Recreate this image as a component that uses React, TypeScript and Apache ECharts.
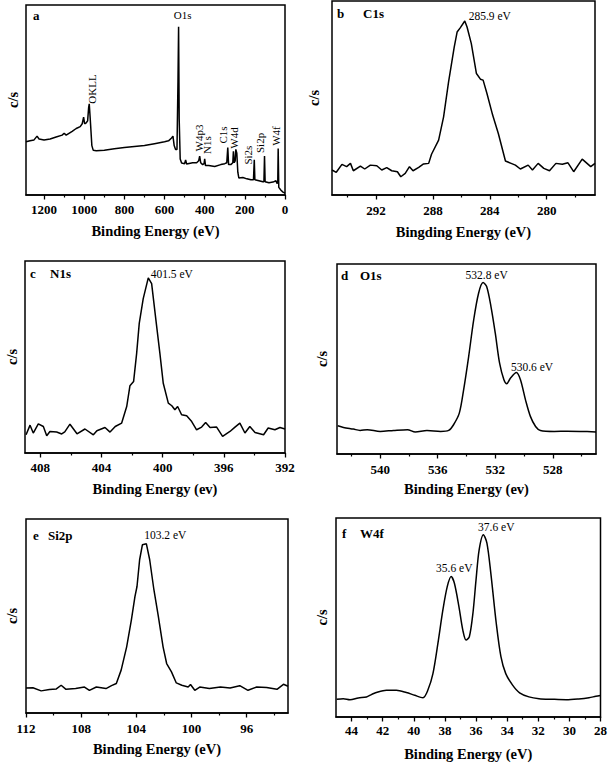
import React, { useEffect, useRef } from "react";
import * as echarts from "echarts";

// ---------- data ----------
// (a) survey
const surveyEnergy = [1290,1270,1250,1235,1225,1200,1170,1140,1110,1100,1090,1060,1040,1020,1010,1003,998,990,983,978,975,970,962,955,940,900,850,800,750,700,650,600,580,565,558,552,545,538,533,530,527,522,515,500,495,490,460,440,430,425,420,410,403,400,396,380,350,320,300,290,285,281,270,260,257,253,248,245,240,235,230,210,190,170,157,153,150,130,110,105,102,99,80,60,45,40,36,34,31,20,10,0];
const surveyCounts = [28,28.5,29,31,29.5,29,29.5,30.5,31.5,32.5,31.5,33.5,35,36,37.5,41,37.5,38,39,46,48,40,26,23.5,23.3,23.6,24.3,25,25.5,26,27,28,28.5,30,31,26,24,24,60,88.6,40,19,16.8,16.5,18.5,16.3,17,17,18,20.5,17,16,16.5,19,15.5,15.5,15,16,16.5,17,25,16,16,17,23,17,18,24,22,12,9,9.2,8.5,8,8,18.5,8,7.5,7,7,20.5,7,6.5,6.8,7.5,6,7,24.5,4,2.5,1.5,1];
const surveyTicks = [0,200,400,600,800,1000,1200];
const surveyMinorTicks = [100,300,500,700,900,1100];
const surveyPeakNames = ["O1s","OKLL","W4p3","N1s","C1s","W4d","Si2s","Si2p","W4f"];
const surveyPeakLabelAt = [[510,95],[960,55.8],[430,30],[390,26.3],[310,31.6],[252,30],[185,21],[125,27.4],[45,31]];
const surveyPeakRotate = [0,90,90,90,90,90,90,90,90];

// (b) C1s
const c1sEnergy = [295.1,294.8,294.4,294.07,293.8,293.6,293.1,292.8,292.4,291.95,291.6,291.25,290.9,290.5,290.26,289.95,289.65,289.4,289.0,288.66,288.3,288.1,287.6,287.25,286.9,286.5,286.3,286.07,285.76,285.6,285.3,284.94,284.66,284.47,284.2,283.8,283.4,283.1,282.9,282.5,282.2,281.85,281.3,281.0,280.6,280.2,279.8,279.35,278.9,278.5,278.1,277.5,276.9,276.6];
const c1sCounts = [12.9,11.7,15.8,14.6,16.3,12.5,14.9,13.4,15.4,15.1,12.9,14.1,12.5,12,9.4,11.1,14.6,12.5,14.2,16,16.3,21,28.3,40.3,58.3,76.3,84,86.3,89.7,86.6,78,62.6,59.7,59.2,52.3,41.2,31.7,23.2,17.5,16.3,15.4,13.4,15.4,12.9,16.3,13.7,12.5,16.3,15.8,16.6,12,18.5,14.6,16.3];
const c1sTicks = [292,288,284,280];
const c1sMinorTicks = [294,290,286,282,278];
const c1sPeakNames = ["285.9 eV"];
const c1sPeakLabelAt = [[284.0,92.3]];

// (c) N1s
const n1sEnergy = [408.93,408.67,408.46,408.13,407.8,407.58,407.37,406.93,406.6,406.4,406.06,405.6,405.08,404.53,404.3,403.77,403.44,403.1,402.68,402.35,402.14,401.9,401.7,401.53,401.27,400.94,400.72,400.44,400.18,399.96,399.63,399.4,399.2,399.02,398.76,398.43,398.1,397.78,397.45,397.19,396.9,396.47,396.08,395.6,395.27,394.95,394.62,394.3,393.96,393.4,393.1,392.66,392.33,392.0];
const n1sCounts = [9.5,14.5,10.4,15.2,13.8,9,11.2,10.9,9.9,11,15,10,12.5,9.5,11.6,13.3,10.9,13.8,15.6,24.2,35,37.2,51.9,67.5,80.4,91.2,88.2,69.2,51.9,36.3,26,24.6,22.5,24.2,19.9,19.4,16.4,12.1,13.5,15.9,13.3,13.5,8.7,11.2,13.5,15.6,10.4,13.8,10.7,9.5,13,12.1,13.3,12.5];
const n1sTicks = [408,404,400,396,392];
const n1sMinorTicks = [406,402,398,394];
const n1sPeakNames = ["401.5 eV"];
const n1sPeakLabelAt = [[399.4,93]];

// (d) O1s
const o1sEnergy = [542.95,542.55,541.86,541.4,540.9,540,539.07,538.1,537.56,536.75,535.8,535.24,534.9,534.5,534.2,533.85,533.5,533.16,532.85,532.6,532.3,532.0,531.7,531.4,531.2,530.95,530.53,530.25,529.9,529.56,529.2,528.86,527.9,527.0,526.1,525.0];
const o1sCounts = [14.9,14,13.1,12.4,12.8,11.9,12.4,12.8,11.6,12.4,11.9,12.4,15.4,21.5,33.8,51.3,70.6,84.6,90.2,88.1,77.6,63.6,47.8,39.1,37,39.9,42.9,39.1,28.5,19.8,14.5,12.4,11.9,12.0,11.9,11.6];
const o1sTicks = [540,536,532,528];
const o1sMinorTicks = [542,538,534,530,526];
const o1sPeakNames = ["532.8 eV","530.6 eV"];
const o1sPeakLabelAt = [[532.6,94],[529.45,46]];

// (e) Si2p
const si2pEnergy = [112,111.5,110.9,110.3,109.8,109.45,109.1,108.4,107.76,107.4,106.9,106.2,105.8,105.45,105.1,104.7,104.36,104.1,103.95,103.76,103.56,103.27,103.03,102.74,102.4,102.06,101.8,101.45,101.1,100.7,100.24,100.07,99.76,99.4,98.7,97.9,97.2,96.5,95.9,95.27,94.55,93.8,93.33,93];
const si2pCounts = [12.9,13,11.4,12.1,12.4,14.3,12.2,12.6,13.4,11.7,13.4,12.6,14.1,15.2,22.1,34.1,47.9,60,65.2,79,86.7,87.2,79,64.3,49.7,34.1,25.5,21.2,15.5,14.3,13.4,14.7,11.7,13.4,12.6,13.4,12.9,14.1,11.7,13.4,13.1,12.2,14.8,13.8];
const si2pTicks = [112,108,104,100,96];
const si2pMinorTicks = [110,106,102,98,94];
const si2pPeakNames = ["103.2 eV"];
const si2pPeakLabelAt = [[101.9,92]];

// (f) W4f
const w4fEnergy = [44.96,44.53,44.1,43.57,43.04,42.7,42.3,41.76,41.12,40.48,39.94,39.41,39.1,38.77,38.45,38.13,37.85,37.6,37.39,37.1,36.85,36.64,36.43,36.2,36.0,35.8,35.53,35.3,35.05,34.7,34.4,34.09,33.65,33.2,32.6,31.95,31.1,30.2,29.4,28.74,28.3,28.0];
const w4fCounts = [8.9,9.2,8.7,9.6,10.1,11.4,12.6,13.4,13.4,12.3,10.9,9.7,13.4,21.8,37,53.8,65.5,70.6,67.2,55.5,43.7,38.7,40.3,52.1,68.9,84,91.6,87.4,72.3,47.1,30.3,21.8,16,12.1,10.1,9.2,8.9,8.7,9.1,9.7,10.4,10.8];
const w4fTicks = [44,42,40,38,36,34,32,30,28];
const w4fMinorTicks = [43,41,39,37,35,33,31,29];
const w4fPeakNames = ["35.6 eV","37.6 eV"];
const w4fPeakLabelAt = [[37.4,75],[34.7,95.6]];

const FONT = '"Liberation Serif", "Times New Roman", serif';

type Panel = {
  grid: { left: number; top: number; width: number; height: number };
  min: number; max: number;
  ticks: number[]; minor: number[];
  energy: number[]; counts: number[];
  smooth: number | boolean;
  xName: string;
  xNameGap: number; labelMargin: number; yNameGap: number;
  peakNames: string[]; peakAt: number[][]; peakRotate?: number[];
  letter: string; letterPos: [number, number];
  element?: string; elementPos?: [number, number];
};

const panels: Panel[] = [
  { grid: { left: 26, top: 5, width: 259, height: 190 }, min: 0, max: 1290, ticks: surveyTicks, minor: surveyMinorTicks,
    energy: surveyEnergy, counts: surveyCounts, smooth: false, xName: "Binding Energy (eV)", xNameGap: 28, labelMargin: 8, yNameGap: 6,
    peakNames: surveyPeakNames, peakAt: surveyPeakLabelAt, peakRotate: surveyPeakRotate, letter: "a", letterPos: [33, 15] },
  { grid: { left: 332, top: 1, width: 263, height: 194 }, min: 276.6, max: 295.1, ticks: c1sTicks, minor: c1sMinorTicks,
    energy: c1sEnergy, counts: c1sCounts, smooth: false, xName: "Bingding Energy (eV)", xNameGap: 29, labelMargin: 9, yNameGap: 11,
    peakNames: c1sPeakNames, peakAt: c1sPeakLabelAt, letter: "b", letterPos: [337, 13], element: "C1s", elementPos: [363, 13] },
  { grid: { left: 25, top: 261, width: 260, height: 192 }, min: 392, max: 409, ticks: n1sTicks, minor: n1sMinorTicks,
    energy: n1sEnergy, counts: n1sCounts, smooth: false, xName: "Binding Energy (ev)", xNameGap: 28, labelMargin: 8, yNameGap: 6,
    peakNames: n1sPeakNames, peakAt: n1sPeakLabelAt, letter: "c", letterPos: [30, 273], element: "N1s", elementPos: [50, 273] },
  { grid: { left: 337, top: 264, width: 259, height: 190 }, min: 525, max: 543, ticks: o1sTicks, minor: o1sMinorTicks,
    energy: o1sEnergy, counts: o1sCounts, smooth: 0.3, xName: "Binding Energy (ev)", xNameGap: 27, labelMargin: 9, yNameGap: 8,
    peakNames: o1sPeakNames, peakAt: o1sPeakLabelAt, letter: "d", letterPos: [341, 275], element: "O1s", elementPos: [360, 275] },
  { grid: { left: 26, top: 519, width: 262, height: 194 }, min: 93, max: 112, ticks: si2pTicks, minor: si2pMinorTicks,
    energy: si2pEnergy, counts: si2pCounts, smooth: false, xName: "Binding Energy (eV)", xNameGap: 28, labelMargin: 9, yNameGap: 7,
    peakNames: si2pPeakNames, peakAt: si2pPeakLabelAt, letter: "e", letterPos: [33, 535], element: "Si2p", elementPos: [48, 535] },
  { grid: { left: 336, top: 518, width: 266, height: 199 }, min: 28, max: 45, ticks: w4fTicks, minor: w4fMinorTicks,
    energy: w4fEnergy, counts: w4fCounts, smooth: 0.3, xName: "Binding Energy (eV)", xNameGap: 29, labelMargin: 7, yNameGap: 7,
    peakNames: w4fPeakNames, peakAt: w4fPeakLabelAt, letter: "f", letterPos: [342, 533], element: "W4f", elementPos: [360, 533] },
];

function buildOption() {
  const grid: any[] = [];
  const xAxis: any[] = [];
  const yAxis: any[] = [];
  const series: any[] = [];
  const graphic: any[] = [];

  panels.forEach((p, i) => {
    grid.push({ ...p.grid, show: true, borderColor: "#000", borderWidth: 1.5, backgroundColor: "transparent", containLabel: false });
    // main x axis (index 2*i)
    xAxis.push({
      type: "value", gridIndex: i, min: p.min, max: p.max, inverse: true, position: "bottom",
      axisLine: { show: true, onZero: false, lineStyle: { color: "#000", width: 1.5 } },
      axisTick: { show: true, inside: false, length: 4.5, customValues: p.ticks, lineStyle: { color: "#000", width: 1.3 } },
      axisLabel: {
        show: true, customValues: p.ticks, color: "#000", fontFamily: FONT, fontWeight: "bold", fontSize: 13,
        margin: p.labelMargin, hideOverlap: false, formatter: (v: number) => String(v),
      },
      splitLine: { show: false },
      name: p.xName, nameLocation: "middle", nameGap: p.xNameGap,
      nameTextStyle: { color: "#000", fontFamily: FONT, fontWeight: "bold", fontSize: 14.5 },
    });
    // minor tick axis (index 2*i+1)
    xAxis.push({
      type: "value", gridIndex: i, min: p.min, max: p.max, inverse: true, position: "bottom",
      axisLine: { show: false },
      axisTick: { show: true, inside: false, length: 2.5, customValues: p.minor, lineStyle: { color: "#000", width: 1.2 } },
      axisLabel: { show: false },
      splitLine: { show: false },
    });
    yAxis.push({
      type: "value", gridIndex: i, min: 0, max: 100,
      axisLine: { show: false }, axisTick: { show: false }, axisLabel: { show: false }, splitLine: { show: false },
      name: "c/s", nameLocation: "middle", nameGap: p.yNameGap, nameRotate: 90,
      nameTextStyle: { color: "#000", fontFamily: FONT, fontWeight: "bold", fontSize: 14.5 },
    });
    series.push({
      type: "line", xAxisIndex: 2 * i, yAxisIndex: i,
      data: p.energy.map((e, k) => [e, p.counts[k]]),
      showSymbol: false, smooth: p.smooth,
      lineStyle: { color: "#000", width: 1.5 },
      silent: true,
    });
    series.push({
      type: "scatter", xAxisIndex: 2 * i, yAxisIndex: i, symbolSize: 0, silent: true,
      itemStyle: { color: "#000", opacity: 1 },
      data: p.peakAt.map((pt, k) => ({
        value: pt, name: p.peakNames[k],
        label: { rotate: p.peakRotate ? p.peakRotate[k] : 0 },
      })),
      label: {
        show: true, position: [0, 0], align: "center", verticalAlign: "middle",
        formatter: "{b}", color: "#000", opacity: 1,
        fontFamily: FONT, fontSize: i === 0 ? 11 : 11.5, fontWeight: "normal",
      },
    });
    const txt = (text: string, pos: [number, number]) => ({
      type: "text", x: pos[0], y: pos[1], silent: true,
      style: {
        text, fill: "#000", fontFamily: FONT, fontWeight: "bold", fontSize: 13,
        textAlign: "left", textVerticalAlign: "middle", align: "left", verticalAlign: "middle",
      },
    });
    graphic.push(txt(p.letter, p.letterPos));
    if (p.element && p.elementPos) graphic.push(txt(p.element, p.elementPos));
  });

  return { animation: false, backgroundColor: "#fff", grid, xAxis, yAxis, series, graphic };
}

export default function App() {
  const ref = useRef<HTMLDivElement>(null);
  useEffect(() => {
    if (!ref.current) return;
    const chart = echarts.init(ref.current, undefined, { renderer: "svg" });
    chart.setOption(buildOption() as any);
    return () => chart.dispose();
  }, []);
  return (
    <div
      ref={ref}
      style={{ position: "absolute", left: 0, top: 0, width: 610, height: 763, background: "#fff" }}
    />
  );
}
